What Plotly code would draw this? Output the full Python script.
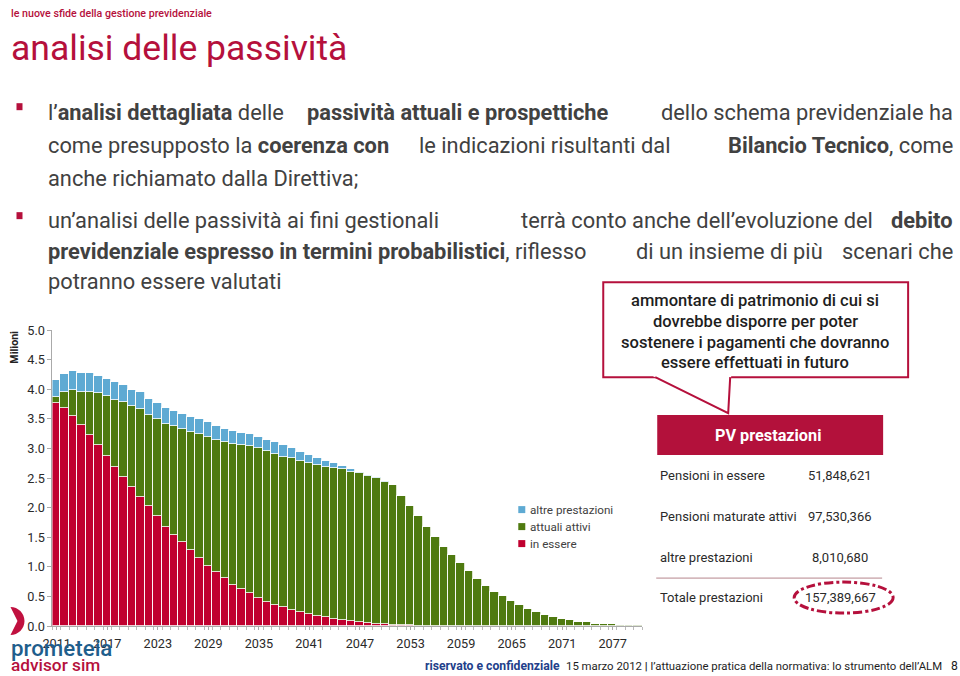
import plotly.graph_objects as go

W, H = 960, 676

# ---------------- data (values in millions) ----------------
years = list(range(2011, 2081))

in_essere = [3.76, 3.68, 3.55, 3.39, 3.22, 3.05, 2.87, 2.69, 2.51, 2.34,
             2.18, 2.02, 1.85, 1.68, 1.54, 1.41, 1.28, 1.15, 1.02, 0.91,
             0.81, 0.70, 0.62, 0.55, 0.48, 0.41, 0.36, 0.32, 0.27, 0.23,
             0.20, 0.17, 0.15, 0.12, 0.10, 0.08, 0.06, 0.05, 0.04, 0.03,
             0.02, 0.015, 0.01, 0.005, 0, 0, 0, 0, 0, 0,
             0, 0, 0, 0, 0, 0, 0, 0, 0, 0,
             0, 0, 0, 0, 0, 0, 0, 0, 0, 0]

attuali_attivi = [0.10, 0.28, 0.44, 0.56, 0.73, 0.89, 1.02, 1.13, 1.27, 1.38,
                  1.49, 1.54, 1.64, 1.74, 1.84, 1.91, 1.99, 2.09, 2.18, 2.24,
                  2.30, 2.37, 2.43, 2.49, 2.53, 2.55, 2.55, 2.54, 2.56, 2.56,
                  2.55, 2.55, 2.54, 2.55, 2.55, 2.52, 2.52, 2.49, 2.46, 2.41,
                  2.36, 2.185, 2.01, 1.845, 1.67, 1.50, 1.34, 1.20, 1.06, 0.92,
                  0.80, 0.68, 0.58, 0.50, 0.42, 0.35, 0.29, 0.23, 0.19, 0.15,
                  0.12, 0.10, 0.07, 0.06, 0.04, 0.03, 0.03, 0.02, 0.015, 0.01]

altre_prestazioni = [0.30, 0.30, 0.31, 0.33, 0.33, 0.28, 0.28, 0.30, 0.29, 0.27,
                     0.28, 0.28, 0.27, 0.27, 0.26, 0.26, 0.26, 0.25, 0.25, 0.23,
                     0.22, 0.22, 0.21, 0.20, 0.19, 0.19, 0.19, 0.19, 0.17, 0.15,
                     0.13, 0.12, 0.10, 0.08, 0.06, 0.05, 0.02, 0.015, 0.01, 0.005,
                     0.005, 0, 0, 0, 0, 0, 0, 0, 0, 0,
                     0, 0, 0, 0, 0, 0, 0, 0, 0, 0,
                     0, 0, 0, 0, 0, 0, 0, 0, 0, 0]

x_tick_labels = [2011, 2017, 2023, 2029, 2035, 2041, 2047, 2053, 2059, 2065, 2071, 2077]
y_tick_vals = [0.0, 0.5, 1.0, 1.5, 2.0, 2.5, 3.0, 3.5, 4.0, 4.5, 5.0]

series_names = ["in essere", "attuali attivi", "altre prestazioni"]
table_labels = ["Pensioni in essere", "Pensioni maturate attivi", "altre prestazioni", "Totale prestazioni"]
table_values = ["51,848,621", "97,530,366", "8,010,680", "157,389,667"]

# ---------------- styling ----------------
RED = "#B5103C"
BAR_RED = "#C0002F"
BAR_GREEN = "#4F7A10"
BAR_BLUE = "#5EAAD3"
TXT = "#414141"
FONT = "Roboto, 'Open Sans', sans-serif"

# the photographed page shows the figure slightly shrunk and offset; positions below are
# given in the reference's pixel frame and mapped back to figure pixels
SX, OX = 0.99, 9.5
SY, OY = 0.978, 7.8
FS = 1.0 / 0.985


def px(x):
    return ((x - OX) / SX) / W


def py(y):
    return 1 - ((y - OY) / SY) / H


fig = go.Figure()
for name, vals, col in zip(series_names, [in_essere, attuali_attivi, altre_prestazioni],
                           [BAR_RED, BAR_GREEN, BAR_BLUE]):
    fig.add_trace(go.Bar(x=years, y=vals, name=name, marker_color=col,
                         marker_line_color="rgba(255,255,255,0.8)", marker_line_width=1,
                         showlegend=False))

annotations = []


def txt(x, y, text, size, color=TXT, anchor="left", bold=False, weight=None, angle=0):
    f = dict(size=size * FS, color=color, family=FONT)
    if weight is not None:
        f["weight"] = weight
    annotations.append(dict(x=px(x), y=py(y), xref="paper", yref="paper", text=("<b>%s</b>" % text) if bold else text,
                            showarrow=False, xanchor=anchor, yanchor="middle", font=f, textangle=angle,
                            borderpad=0))


# header
txt(9.5, 13, "le nuove sfide della gestione previdenziale", 10.5, RED, weight=500)
txt(10, 48, "analisi delle passività", 35, RED)

# bullet text (approximately justified by anchoring segments)
BS = 21.5
txt(47, 112, "l’<b>analisi dettagliata</b> delle", BS)
txt(306, 112, "<b>passività attuali e prospettiche</b>", BS)
txt(954, 112, "dello schema previdenziale ha", BS, anchor="right")
txt(47, 145, "come presupposto la <b>coerenza con</b>", BS)
txt(418, 145, "le indicazioni risultanti dal", BS)
txt(954, 145, "<b>Bilancio Tecnico</b>, come", BS, anchor="right")
txt(47, 178, "anche richiamato dalla Direttiva;", BS)
txt(47, 220, "un’analisi delle passività ai fini gestionali", BS)
txt(520, 220, "terrà conto anche dell’evoluzione del", BS)
txt(954, 220, "<b>debito</b>", BS, anchor="right")
txt(47, 251, "<b>previdenziale espresso in termini probabilistici</b>, riflesso", BS)
txt(635, 251, "di un insieme di più", BS)
txt(954, 251, "scenari che", BS, anchor="right")
txt(47, 281, "potranno essere valutati", BS)

# axis title
txt(14, 347, "Milioni", 10.5, "#222", anchor="center", bold=True, angle=-90)

# legend (custom)
leg_y = [510, 527, 544]
for (name, col), yy in zip([("altre prestazioni", BAR_BLUE), ("attuali attivi", BAR_GREEN), ("in essere", BAR_RED)], leg_y):
    txt(529, yy, name, 11.5, TXT)

# callout text
for line, yy in zip(["ammontare di patrimonio di cui si", "dovrebbe disporre per poter",
                     "sostenere i pagamenti che dovranno", "essere effettuati in futuro"],
                    [300, 321, 342, 362]):
    txt(755, yy, line, 16.3, "#1e1e1e", anchor="center", weight=500)

# PV box title
txt(768, 435, "PV prestazioni", 16, "white", anchor="center", bold=True)

# table
for lab, val, yy in zip(table_labels, table_values, [475, 516, 557, 597]):
    txt(659, yy, lab, 12.8, "#2a2a2a")
    txt(840, yy, val, 12.8, "#2a2a2a", anchor="center")

# logo
txt(10, 648, "prometeia", 22, "#1F5E8C", weight=500)
txt(10, 665, "advisor sim", 17, RED, weight=500)

# footer
txt(424, 666, "riservato e confidenziale", 12, "#22408A", bold=True)
txt(565, 666, "15 marzo 2012 <b>|</b> l’attuazione pratica della normativa: lo strumento dell’ALM", 11.2, "#1e1e1e")
txt(959, 666, "8", 12, "#1e1e1e", anchor="right")

shapes = []


def rect(x0, y0, x1, y1, fill=None, line=None, lw=0):
    shapes.append(dict(type="rect", xref="paper", yref="paper", x0=px(x0), x1=px(x1), y0=py(y1), y1=py(y0),
                       fillcolor=fill if fill else "rgba(0,0,0,0)",
                       line=dict(color=line if line else "rgba(0,0,0,0)", width=lw), layer="above"))


def pth(points, fill=None, line=None, lw=0, closed=True):
    d = "M %f,%f " % (px(points[0][0]), py(points[0][1]))
    for p in points[1:]:
        d += "L %f,%f " % (px(p[0]), py(p[1]))
    if closed:
        d += "Z"
    shapes.append(dict(type="path", xref="paper", yref="paper", path=d,
                       fillcolor=fill if fill else "rgba(0,0,0,0)",
                       line=dict(color=line if line else "rgba(0,0,0,0)", width=lw), layer="above"))


# bullets
rect(16, 103, 22, 110, fill=RED)
rect(16, 212, 22, 219, fill=RED)

# legend squares
for col, yy in zip([BAR_BLUE, BAR_GREEN, BAR_RED], leg_y):
    rect(518, yy - 4, 525, yy + 3, fill=col)

# callout box + pointer
rect(603, 282, 908, 377, fill="white", line=RED, lw=2)
pth([(652, 375.5), (728, 413), (731, 375.5)], fill="white")
pth([(655, 377), (728, 413), (730, 377)], line=RED, lw=2, closed=False)

# PV box
rect(657, 415, 883, 455, fill="#B3113B")

# table separator
shapes.append(dict(type="line", xref="paper", yref="paper", x0=px(656), x1=px(882), y0=py(578), y1=py(578),
                   line=dict(color="#B5868C", width=1), layer="above"))

# dashed ellipse
shapes.append(dict(type="circle", xref="paper", yref="paper", x0=px(794), x1=px(893), y0=py(613), y1=py(582),
                   line=dict(color=RED, width=3, dash="dashdot"), layer="above"))

# logo mark (half disc with notch)
cx, cy, r = 10, 621, 14
k = 0.5523 * r
logo = ("M %f,%f C %f,%f %f,%f %f,%f C %f,%f %f,%f %f,%f L %f,%f Z" % (
    px(cx), py(cy - r),
    px(cx + k), py(cy - r), px(cx + r), py(cy - k), px(cx + r), py(cy),
    px(cx + r), py(cy + k), px(cx + k), py(cy + r), px(cx), py(cy + r),
    px(cx + 7), py(cy)))
shapes.append(dict(type="path", xref="paper", yref="paper", path=logo, fillcolor="#C0103F",
                   line=dict(width=0), layer="above"))

fig.update_layout(
    width=W, height=H, autosize=False,
    margin=dict(l=0, r=0, t=0, b=0),
    paper_bgcolor="white", plot_bgcolor="white",
    barmode="stack", bargap=0,
    font=dict(family=FONT, size=12, color="#333"),
    xaxis=dict(domain=[px(52), px(642)], range=[2010.5, 2080.5],
               tickvals=x_tick_labels, ticks="outside", ticklen=3, tickcolor="#aaa",
               ticklabelstandoff=3,
               showline=True, linecolor="#aaa", linewidth=1, showgrid=False, zeroline=False,
               tickfont=dict(size=12.5 * FS, color="#2a2a2a", family=FONT),
               minor=dict(tick0=2010.5, dtick=1, ticks="outside", ticklen=3, tickcolor="#bbb")),
    yaxis=dict(domain=[py(626), py(330)], range=[0, 5], tickvals=y_tick_vals, tickformat=".1f",
               ticks="outside", ticklen=4, tickcolor="#aaa", showline=True, linecolor="#aaa", linewidth=1,
               showgrid=False, zeroline=False, tickfont=dict(size=12.5 * FS, color="#2a2a2a", family=FONT)),
    annotations=annotations,
    shapes=shapes,
)

page_css = (
    "var s=document.createElement('style');"
    "s.textContent='html,body{margin:0!important;padding:0!important;width:960px;height:676px;overflow:hidden;}"
    ".plotly-graph-div{position:fixed!important;left:0;top:0;}';"
    "document.head.appendChild(s);"
)

fig.write_html("out.html",
               config={"responsive": False, "displayModeBar": False},
               post_script=page_css)
